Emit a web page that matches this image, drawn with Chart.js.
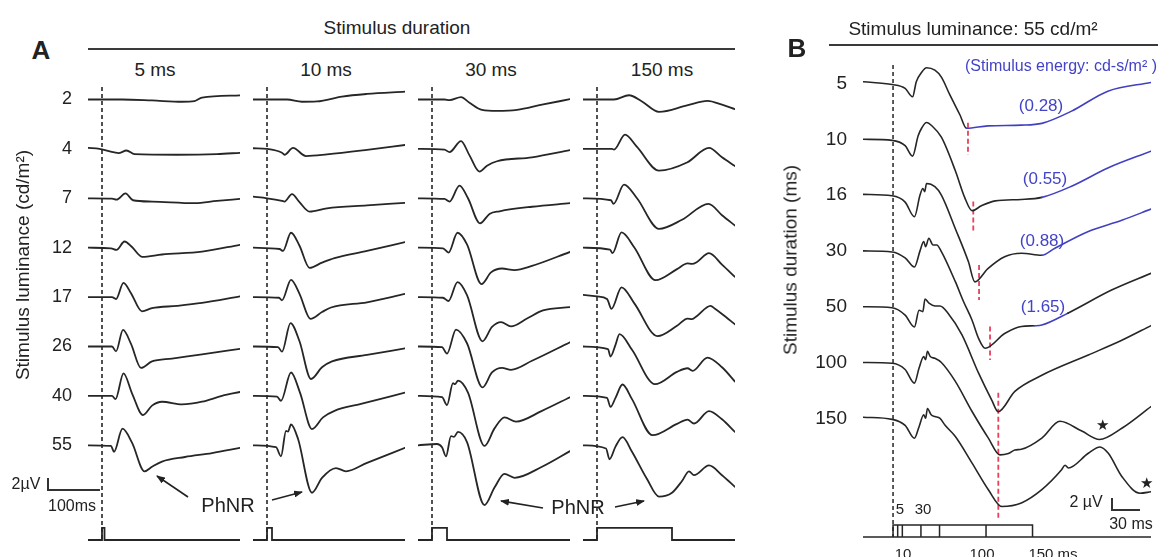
<!DOCTYPE html>
<html>
<head>
<meta charset="utf-8">
<script src="https://cdn.jsdelivr.net/npm/chart.js@4.4.1/dist/chart.umd.min.js"></script>
<style>
body{margin:0;background:#fff;width:1164px;height:557px;overflow:hidden;position:relative;font-family:"Liberation Sans",Arial,Helvetica,sans-serif;color:#222}
canvas{position:absolute}
.c{position:absolute;white-space:nowrap;line-height:1;transform:translate(-50%,-50%)}
.r{position:absolute;white-space:nowrap;line-height:1;transform:translate(-50%,-50%) rotate(-90deg)}
.hl{position:absolute;height:2px;background:#3a3a3a}
.bar{position:absolute;border-left:2px solid #333;border-bottom:2px solid #333}
.blue{color:#4343c8}
</style>
</head>
<body>
<canvas id="a5" width="240" height="470" style="left:0;top:80px"></canvas>
<canvas id="a10" width="152" height="470" style="left:253px;top:80px"></canvas>
<canvas id="a30" width="152" height="470" style="left:418px;top:80px"></canvas>
<canvas id="a150" width="152" height="470" style="left:583px;top:80px"></canvas>
<canvas id="b" width="381" height="495" style="left:770px;top:55px"></canvas>

<div class="c" style="left:41px;top:50px;font-size:26px;font-weight:bold">A</div>
<div class="c" style="left:397px;top:27px;font-size:19px">Stimulus duration</div>
<div class="hl" style="left:88px;top:48px;width:647px"></div>
<div class="c" style="left:155px;top:69px;font-size:19px">5 ms</div>
<div class="c" style="left:326px;top:69px;font-size:19px">10 ms</div>
<div class="c" style="left:491px;top:69px;font-size:19px">30 ms</div>
<div class="c" style="left:662px;top:69px;font-size:19px">150 ms</div>
<div class="r" style="left:22px;top:265px;font-size:19px">Stimulus luminance (cd/m²)</div>
<div class="c" style="left:26px;top:484px;font-size:16px">2µV</div>
<div class="bar" style="left:47px;top:478px;width:51px;height:11px"></div>
<div class="c" style="left:72px;top:506px;font-size:16px">100ms</div>
<div class="c" style="left:228px;top:505px;font-size:20px">PhNR</div>
<div class="c" style="left:578px;top:507px;font-size:20px">PhNR</div>

<div class="c" style="left:797px;top:48px;font-size:26px;font-weight:bold">B</div>
<div class="c" style="left:973px;top:28px;font-size:19px">Stimulus luminance: 55 cd/m²</div>
<div class="hl" style="left:829px;top:44px;width:329px"></div>
<div class="c blue" style="left:1061px;top:66px;font-size:16px">(Stimulus energy: cd-s/m² )</div>
<div class="c blue" style="left:1041px;top:105px;font-size:17px">(0.28)</div>
<div class="c blue" style="left:1045px;top:178px;font-size:17px">(0.55)</div>
<div class="c blue" style="left:1042px;top:240px;font-size:17px">(0.88)</div>
<div class="c blue" style="left:1043px;top:306px;font-size:17px">(1.65)</div>
<div class="r" style="left:790px;top:260px;font-size:19px">Stimulus duration (ms)</div>
<div class="c" style="left:1102px;top:424px;font-size:15px">★</div>
<div class="c" style="left:1146px;top:482px;font-size:15px">★</div>
<div class="c" style="left:1086px;top:502px;font-size:16px">2 µV</div>
<div class="bar" style="left:1111px;top:498px;width:27px;height:11px"></div>
<div class="c" style="left:1131px;top:524px;font-size:16px">30 ms</div>
<div class="c" style="left:900px;top:508px;font-size:15px">5</div>
<div class="c" style="left:923px;top:508px;font-size:15px">30</div>
<div class="c" style="left:903px;top:553px;font-size:15px">10</div>
<div class="c" style="left:982px;top:553px;font-size:15px">100</div>
<div class="c" style="left:1053px;top:553px;font-size:15px">150 ms</div>

<svg width="1164" height="557" style="position:absolute;left:0;top:0">
<defs><marker id="ah" markerWidth="9" markerHeight="7" refX="8" refY="3.5" orient="auto" markerUnits="userSpaceOnUse"><path d="M0,0 L9,3.5 L0,7 z" fill="#222"/></marker></defs>
<g stroke="#222" stroke-width="1.6">
<line x1="188" y1="497" x2="157" y2="476" marker-end="url(#ah)"/>
<line x1="272" y1="500" x2="302" y2="492" marker-end="url(#ah)"/>
<line x1="543" y1="508" x2="501" y2="501" marker-end="url(#ah)"/>
<line x1="615" y1="507" x2="644" y2="501" marker-end="url(#ah)"/>
</g>
</svg>

<script>
// Panel A: luminance rows (cd/m2) and flash durations (ms)
const luminance = [2, 4, 7, 12, 17, 26, 40, 55];
const durationsA = [5, 10, 30, 150];

// traces as [time ms, amplitude uV], one per luminance row
const trace5ms = [
  [[-28,0],[40,0],[100,-0.15],[160,-0.35],[185,-0.25],[200,0.3],[276,0.65]],
  [[-28,0.15],[-5,0],[25,-0.55],[33,-0.65],[49,-0.25],[65,-0.8],[150,-0.9],[230,-0.8],[276,-0.6]],
  [[-28,0],[20,-0.05],[29,-0.2],[47,0.75],[62,-0.3],[100,-0.5],[186,-0.75],[230,-0.4],[276,-0.1]],
  [[-28,0],[18,-0.1],[29,-0.35],[45,0.95],[60,0.1],[80,-1.4],[120,-1.05],[200,-0.6],[276,0.45]],
  [[-28,0],[20,0],[28,-0.3],[43,2.2],[58,0.6],[80,-2.2],[100,-1.7],[150,-1.35],[200,-0.9],[276,0.1]],
  [[-28,0],[20,0],[28,-0.75],[42,2.55],[58,0.4],[78,-3.3],[100,-2.3],[140,-1.85],[200,-1.2],[276,-0.35]],
  [[-28,0],[20,0],[27,-0.5],[43,3.45],[60,0.4],[82,-2.95],[100,-1.5],[120,-0.9],[160,-1.3],[200,-0.9],[240,0],[276,0.6]],
  [[-28,0],[18,-0.1],[24,-1.0],[41,2.55],[60,0.4],[85,-4.0],[100,-3.3],[120,-2.5],[166,-1.8],[220,-1.2],[276,-0.4]]
];
const trace10ms = [
  [[-28,0],[40,0],[70,-0.35],[100,-0.3],[150,0.45],[200,0.85],[276,1.2]],
  [[-28,0.1],[0,0],[30,-0.6],[35,-0.9],[52,0.15],[78,-1.1],[120,-0.85],[200,-0.15],[276,0.6]],
  [[-28,0.25],[0,0],[30,-0.4],[35,-0.5],[50,0.65],[65,-0.6],[85,-2.05],[120,-1.55],[200,-1.1],[276,-0.7]],
  [[-28,0],[25,-0.2],[32,-0.5],[48,2.3],[65,0.3],[85,-3.1],[110,-2.3],[135,-1.6],[200,-0.5],[276,0.85]],
  [[-28,0],[24,-0.1],[30,-0.5],[48,2.65],[65,0.5],[87,-3.35],[110,-2.3],[128,-1.6],[200,-0.8],[276,0.5]],
  [[-28,0],[22,-0.1],[30,-0.8],[47,3.6],[65,0.8],[88,-5.0],[110,-3.2],[130,-2.3],[200,-1.3],[276,-0.3]],
  [[-28,0],[20,-0.1],[28,-0.75],[48,3.6],[66,0.5],[90,-5.1],[112,-3.3],[135,-2.3],[190,-1.2],[276,0.5]],
  [[-28,0],[18,-0.3],[28,-1.7],[38,2.2],[42,2.1],[48,3.2],[62,1.0],[90,-7.3],[110,-5.0],[138,-3.5],[158,-4.0],[200,-2.7],[276,-0.4]]
];
const trace30ms = [
  [[-28,0],[25,0],[35,-0.1],[58,0.35],[75,-0.5],[100,-1.6],[130,-1.75],[170,-1.6],[220,-0.8],[276,0.05]],
  [[-28,0],[25,-0.1],[35,-0.5],[58,1.2],[75,-1.0],[95,-3.5],[110,-2.6],[130,-1.9],[200,-1.3],[276,-0.2]],
  [[-28,0],[25,-0.1],[35,-0.5],[55,1.95],[72,0],[96,-3.85],[115,-2.4],[135,-2.0],[200,-1.3],[276,-0.75]],
  [[-28,0],[22,-0.1],[33,-0.75],[51,2.3],[70,0.5],[99,-5.6],[118,-3.8],[140,-3.2],[165,-3.45],[200,-2.8],[276,-0.65]],
  [[-28,0],[22,-0.1],[33,-0.6],[51,2.3],[70,0.3],[101,-6.8],[120,-4.6],[138,-3.85],[158,-4.5],[190,-3.3],[222,-2.05],[276,-1.55]],
  [[-28,0],[20,-0.1],[30,-1.1],[48,2.6],[70,0.5],[101,-6.3],[120,-4.0],[140,-3.3],[158,-3.6],[200,-2.2],[276,0.65]],
  [[-28,0],[20,-0.2],[30,-1.4],[42,1.95],[46,1.8],[52,2.35],[72,0.5],[105,-7.7],[125,-5.0],[145,-3.3],[168,-3.95],[220,-2.3],[276,-0.2]],
  [[-28,0],[10,0.2],[20,-0.3],[28,-1.7],[38,1.4],[44,1.3],[52,2.05],[70,0.5],[105,-9.2],[125,-6.5],[145,-4.4],[165,-5.0],[220,-3.3],[276,-0.9]]
];
const trace150ms = [
  [[-28,0],[34,0],[64,0.65],[90,-0.3],[124,-1.9],[180,-0.9],[221,-0.2],[250,-0.8],[276,-1.5]],
  [[-28,0],[30,0],[34,-0.1],[56,2.2],[80,0.3],[124,-3.35],[180,-2.1],[224,0.15],[250,-1.3],[276,-2.65]],
  [[-28,0],[28,-0.3],[33,-0.85],[54,2.1],[80,0],[124,-4.7],[170,-3.3],[223,-0.85],[250,-2.6],[276,-4.2]],
  [[-28,0],[26,-0.3],[31,-0.85],[49,2.35],[75,0],[117,-5.0],[160,-3.3],[181,-2.4],[190,-2.5],[200,-2.2],[224,-0.85],[250,-2.6],[276,-4.5]],
  [[-28,0.35],[0,0.1],[20,-0.3],[29,-1.8],[49,1.5],[75,-1.0],[121,-6.0],[160,-4.4],[181,-3.3],[190,-3.4],[200,-2.9],[227,-1.35],[236,-1.8],[250,-2.6],[276,-4.2]],
  [[-28,0],[22,-0.4],[27,-1.55],[37,0.25],[45,1.9],[70,-0.5],[116,-5.8],[160,-3.9],[181,-3.35],[191,-3.75],[221,-1.7],[250,-3.2],[276,-5.4]],
  [[-28,0],[20,-0.3],[27,-1.7],[37,-0.3],[51,1.75],[70,-0.5],[111,-6.05],[160,-4.3],[181,-3.65],[194,-4.25],[224,-2.35],[250,-3.6],[276,-5.55]],
  [[-28,0],[18,-0.5],[25,-2.15],[37,-0.2],[51,1.25],[70,-1.0],[100,-5.2],[124,-7.9],[150,-7.3],[170,-5.5],[184,-4.0],[194,-4.6],[224,-3.1],[250,-4.6],[276,-6.4]]
];

// Panel B: 55 cd/m2, flash durations (ms)
const durationsB = [5, 10, 16, 30, 50, 100, 150];
const traceB = [
  [[-32,0.25],[-1,-0.15],[13,-0.7],[21,-1.9],[25,0.25],[31,1.65],[36,2.25],[45,1.9],[52,0.9],[61,-1.6],[72,-4.5],[79,-6.4],[102,-6.05],[138,-5.95],[160,-5.7],[192,-3.95],[231,-1.1],[277.4,0.15]],
  [[-32,0],[-1,-0.15],[13,-0.9],[21,-2.4],[27,0.5],[31,1.65],[36,2.4],[42,1.9],[52,0.3],[67,-4.5],[77,-8.3],[85,-10.2],[95,-9.5],[110,-8.8],[138,-8.6],[160,-8.3],[192,-6.7],[231,-4.1],[277.4,-1.7]],
  [[-32,0.1],[-1,-0.1],[13,-1.0],[23,-3.1],[29,0],[32,0.95],[34,0.5],[36,1.65],[45,1.2],[52,0],[67,-4.8],[81,-9.5],[88,-12.4],[102,-10.5],[120,-8.8],[138,-8.3],[160,-8.6],[174,-7.6],[210,-5.2],[246,-3.6],[277.4,-2.0]],
  [[-32,0],[-1,-0.15],[13,-1.0],[23,-2.3],[29,0],[33,1.35],[35,0.6],[38.5,1.8],[43,0.85],[47,0.85],[52,-0.1],[67,-4.4],[76,-7.3],[85,-9.9],[92,-12.5],[99,-13.9],[120,-11.8],[138,-10.8],[152,-10.7],[160,-10.6],[188,-8.9],[235,-5.6],[277.4,-3.2]],
  [[-32,0],[-1,-0.15],[13,-1.2],[23,-2.9],[28,-0.5],[32,-0.7],[34.4,1.1],[38.7,0.5],[45,0.1],[50.5,0.1],[59.5,-1.0],[74,-4.0],[92,-9.5],[106,-13.3],[113,-15],[131,-12.1],[160,-9.8],[210,-6.9],[246,-4.8],[277.4,-2.7]],
  [[-32,0],[-1,-0.1],[13,-1.0],[23,-2.95],[28,-0.8],[33,0.85],[35,0.4],[37,1.6],[40,0.85],[45,0.6],[52,0],[67,-2.7],[85,-7.0],[102.5,-10.8],[115,-13.2],[124,-13.0],[131,-12.5],[138,-12.4],[160,-10.8],[179.5,-8.4],[203,-9.8],[222,-11.0],[246,-9.4],[277.4,-6.3]],
  [[-32,0.15],[-1,-0.15],[13,-1.0],[23,-2.85],[28,-1.2],[33,0.5],[35,0],[37,1.4],[41,0.5],[45,0.25],[50.5,0],[56,-1.0],[67,-2.6],[85,-6.4],[102.5,-10.2],[117,-12.6],[138,-12.1],[160,-10.2],[181,-7.4],[185,-6.7],[188.5,-7.1],[210,-5.0],[222.5,-4.1],[231.5,-5.0],[246,-8.3],[265.6,-10.7],[277.4,-10.5]]
];
// part of each trace drawn in blue (ms), rows 5,10,16,30
const blueSpanB = [[79, 278], [160, 278], [160, 278], [152, 188]];
// red PhNR trough markers: time (ms), top and bottom (uV) per row
const phnrT = [80.6, 86.3, 92.5, 104.3, 113.2];
const phnrTop = [-5.6, -8.9, -10.0, -10.8, -12.3];
const phnrBottom = [-10.2, -13.2, -15.0, -15.6, -30.5];
const stimTicksB = [5, 10, 30, 50, 100, 150];

const INK = '#262626';
const BLUE = '#4040c0';
const FONT = '"Liberation Sans", Arial, sans-serif';
// layout (uV per row, axis ranges)
const GAP_A = 7.6, GAP_B = 7.971;
const STIM_A = -67.77, PULSE_A = 1.85;
const STIM_B = -64.79, BOX_B = -63.07;

function rows(traces, gap, width) {
  return traces.map((pts, i) => ({
    data: pts.map(p => ({x: p[0], y: p[1] - i * gap})),
    borderColor: INK, borderWidth: width, pointRadius: 0,
    cubicInterpolationMode: 'monotone', borderJoinStyle: 'round', borderCapStyle: 'round'
  }));
}

function yAxis(show, labels, gap, min, max, w, size) {
  return {
    type: 'linear', min: min, max: max, display: show,
    grid: {display: false, drawTicks: false}, border: {display: false},
    afterBuildTicks: a => { a.ticks = labels.map((_, i) => ({value: -i * gap})); },
    afterFit: a => { a.width = show ? w : 0; a.paddingTop = 0; a.paddingBottom = 0; },
    ticks: {padding: 16, color: '#222', autoSkip: false, font: {family: FONT, size: size},
      callback: (v, i) => labels[i]}
  };
}

const baseOpts = {
  responsive: false, animation: false, events: [],
  layout: {padding: 0},
  plugins: {legend: {display: false}, tooltip: {enabled: false}}
};

function columnA(id, traces, dur, withAxis) {
  const sets = rows(traces, GAP_A, 1.8);
  sets.push({data: [{x: 0, y: 1.92}, {x: 0, y: STIM_A}], borderColor: INK, borderWidth: 1.6, borderDash: [4, 3], pointRadius: 0});
  sets.push({data: [{x: -28, y: STIM_A}, {x: 0, y: STIM_A}, {x: 0, y: STIM_A + PULSE_A}, {x: dur, y: STIM_A + PULSE_A},
    {x: dur, y: STIM_A}, {x: 276, y: STIM_A}], borderColor: INK, borderWidth: 1.8, pointRadius: 0});
  new Chart(document.getElementById(id), {
    type: 'line', data: {datasets: sets},
    options: Object.assign({}, baseOpts, {
      scales: {
        x: {type: 'linear', min: -28, max: 276, display: false},
        y: yAxis(withAxis, luminance, GAP_A, -69.31, 3.0, 88, 18)
      }
    })
  });
}

columnA('a5', trace5ms, durationsA[0], true);
columnA('a10', trace10ms, durationsA[1], false);
columnA('a30', trace30ms, durationsA[2], false);
columnA('a150', trace150ms, durationsA[3], false);

// panel B
const setsB = rows(traceB, GAP_B, 1.6);
setsB.forEach((s, i) => {
  const span = blueSpanB[i];
  if (span) s.segment = {borderColor: c => (c.p0.parsed.x >= span[0] - 0.01 && c.p1.parsed.x <= span[1]) ? BLUE : INK};
});
const red = [];
phnrT.forEach((t, i) => {
  red.push({x: t, y: phnrTop[i] - i * GAP_B}, {x: t, y: phnrBottom[i] - i * GAP_B}, {x: t, y: null});
});
setsB.push({data: red, borderColor: '#e8405c', borderWidth: 1.8, borderDash: [5, 3], pointRadius: 0, spanGaps: false});
setsB.push({data: [{x: 0, y: 2.64}, {x: 0, y: STIM_B}], borderColor: INK, borderWidth: 1.5, borderDash: [4, 3], pointRadius: 0});
const stimB = [{x: -32.3, y: STIM_B}, {x: 277.4, y: STIM_B}, {x: 0, y: null},
  {x: 0, y: STIM_B}, {x: 0, y: BOX_B}, {x: 150, y: BOX_B}, {x: 150, y: STIM_B}, {x: 150, y: null}];
stimTicksB.slice(0, -1).forEach(d => stimB.push({x: d, y: STIM_B}, {x: d, y: BOX_B}, {x: d, y: null}));
setsB.push({data: stimB, borderColor: INK, borderWidth: 1.5, pointRadius: 0, spanGaps: false});

new Chart(document.getElementById('b'), {
  type: 'line', data: {datasets: setsB},
  options: Object.assign({}, baseOpts, {
    scales: {
      x: {type: 'linear', min: -32.3, max: 277.4, display: false},
      y: yAxis(true, durationsB, GAP_B, -66.64, 4.07, 93, 19)
    }
  })
});
</script>
</body>
</html>
